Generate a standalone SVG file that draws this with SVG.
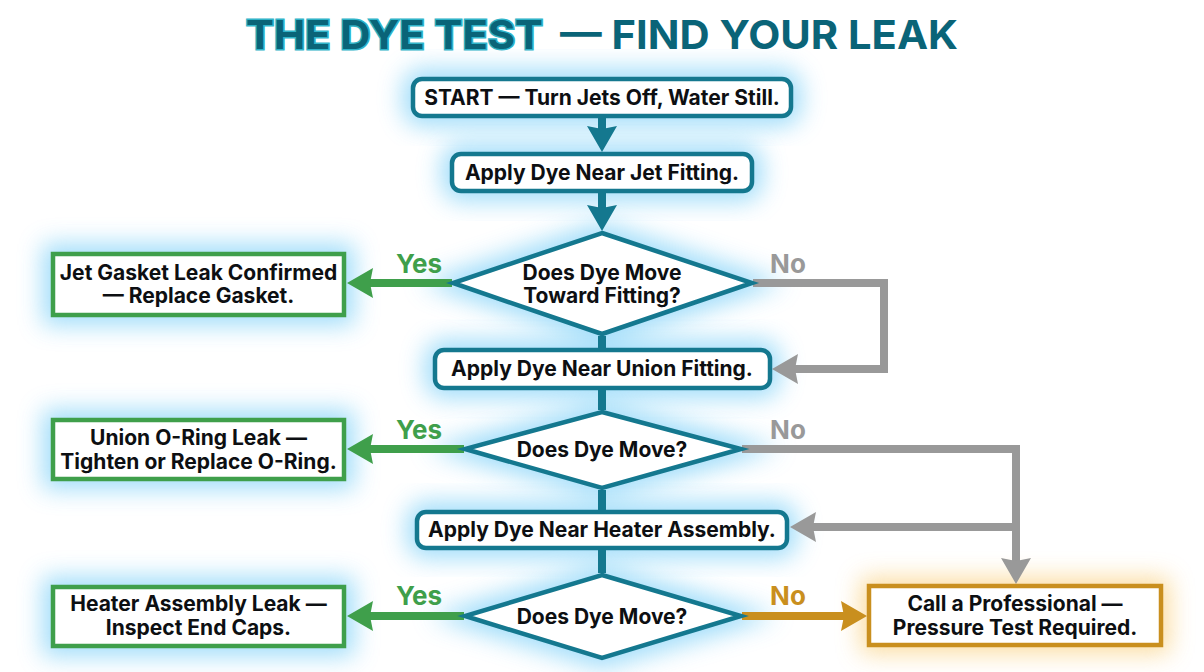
<svg xmlns="http://www.w3.org/2000/svg" width="1204" height="672" viewBox="0 0 1204 672">
<style>
text{font-family:"Inter","Liberation Sans",sans-serif;font-weight:700;text-anchor:middle}
.t{font-size:21px;fill:#0d0f12}
.lab{font-size:26px}
.teal{fill:#fff;stroke:#14788f;stroke-width:4.500;stroke-linejoin:miter}
.green{fill:#fff;stroke:#3f9f4b;stroke-width:4.500}
.gold{fill:#fff;stroke:#c98f1e;stroke-width:4.500}
.gt{fill:#8fd8fa;stroke:#7ed0f8;stroke-width:20;filter:url(#glow);opacity:.75}
.go{fill:#fbd58a;stroke:#f9cf7c;stroke-width:16;filter:url(#glow);opacity:.75}
.c{fill:none;stroke-width:8}
</style>
<defs>
<filter id="glow" x="-30%" y="-80%" width="160%" height="260%"><feGaussianBlur stdDeviation="12"/></filter>
<marker id="aT" markerUnits="userSpaceOnUse" markerWidth="30" markerHeight="32" refX="4" refY="15" orient="auto"><path d="M0 0L26 15L0 30L3 15Z" fill="#14788f"/></marker>
<marker id="aG" markerUnits="userSpaceOnUse" markerWidth="30" markerHeight="32" refX="4" refY="15" orient="auto"><path d="M0 0L26 15L0 30L3 15Z" fill="#3f9f4b"/></marker>
<marker id="aY" markerUnits="userSpaceOnUse" markerWidth="30" markerHeight="32" refX="4" refY="15" orient="auto"><path d="M0 0L26 15L0 30L3 15Z" fill="#999999"/></marker>
<marker id="aO" markerUnits="userSpaceOnUse" markerWidth="30" markerHeight="32" refX="4" refY="15" orient="auto"><path d="M0 0L26 15L0 30L3 15Z" fill="#c98f1e"/></marker>
</defs>
<rect width="1204" height="672" fill="#fff"/>
<g id="title">
<text x="394.500" y="49" font-size="40" fill="#0a6478" stroke="#2fb4c9" stroke-width="3" paint-order="stroke" textLength="297" lengthAdjust="spacingAndGlyphs">THE DYE TEST</text>
<text x="759" y="49" font-size="40" fill="#0a6478" textLength="398" lengthAdjust="spacingAndGlyphs">— FIND YOUR LEAK</text>
</g>
<g id="glows">
<rect class="gt" x="413" y="79" width="378" height="37" rx="9"/>
<rect class="gt" x="452" y="154" width="300" height="37" rx="9"/>
<path class="gt" d="M602 233L753 283L602 334L452 283Z"/>
<rect class="gt" x="435" y="350" width="335" height="38" rx="9"/>
<path class="gt" d="M602 412L742 449L602 488L464 449Z"/>
<rect class="gt" x="417" y="512" width="370" height="36" rx="9"/>
<path class="gt" d="M602 575L742 616L602 658L464 616Z"/>
<rect class="gt" x="53" y="254" width="291" height="61"/>
<rect class="gt" x="53" y="420" width="291" height="59"/>
<rect class="gt" x="53" y="587" width="291" height="59"/>
<rect class="go" x="869" y="586" width="292" height="59"/>
</g>
<g id="connectors">
<path class="c" stroke="#14788f" d="M602 118V130" marker-end="url(#aT)"/>
<path class="c" stroke="#14788f" d="M602 193V209" marker-end="url(#aT)"/>
<path class="c" stroke="#14788f" d="M602 336V348"/>
<path class="c" stroke="#14788f" d="M602 390V410"/>
<path class="c" stroke="#14788f" d="M602 490V510"/>
<path class="c" stroke="#14788f" d="M602 550V573"/>
<path class="c" stroke="#3f9f4b" d="M452 283H369" marker-end="url(#aG)"/>
<path class="c" stroke="#3f9f4b" d="M464 449H369" marker-end="url(#aG)"/>
<path class="c" stroke="#3f9f4b" d="M464 616H369" marker-end="url(#aG)"/>
<path class="c" stroke="#999999" stroke-linejoin="miter" d="M753 283H884V369H794" marker-end="url(#aY)"/>
<path class="c" stroke="#999999" stroke-linejoin="miter" d="M742 449H1016V562" marker-end="url(#aY)"/>
<path class="c" stroke="#999999" d="M1016 527H812" marker-end="url(#aY)"/>
<path class="c" stroke="#c98f1e" d="M742 616H845" marker-end="url(#aO)"/>
</g>
<g id="n-start"><rect class="teal" x="413" y="79" width="378" height="37" rx="9"/><text class="t" x="602" y="105">START — Turn Jets Off, Water Still.</text></g>
<g id="n-jet"><rect class="teal" x="452" y="154" width="300" height="37" rx="9"/><text class="t" x="602" y="180">Apply Dye Near Jet Fitting.</text></g>
<g id="n-d1"><path class="teal" d="M602 233L752 283L602 334L453 283Z"/><text class="t" x="602" y="280">Does Dye Move</text><text class="t" x="602" y="303">Toward Fitting?</text></g>
<g id="n-union"><rect class="teal" x="435" y="350" width="335" height="38" rx="9"/><text class="t" x="602" y="376">Apply Dye Near Union Fitting.</text></g>
<g id="n-d2"><path class="teal" d="M602 412L741 449L602 488L465 449Z"/><text class="t" x="602" y="457">Does Dye Move?</text></g>
<g id="n-heater"><rect class="teal" x="417" y="512" width="370" height="36" rx="9"/><text class="t" x="602" y="537">Apply Dye Near Heater Assembly.</text></g>
<g id="n-d3"><path class="teal" d="M602 575L741 616L602 658L465 616Z"/><text class="t" x="602" y="624">Does Dye Move?</text></g>
<g id="n-gasket"><rect class="green" x="53" y="254" width="291" height="61"/><text class="t" x="198.500" y="280">Jet Gasket Leak Confirmed</text><text class="t" x="198.500" y="303">— Replace Gasket.</text></g>
<g id="n-oring"><rect class="green" x="53" y="420" width="291" height="59"/><text class="t" x="198.500" y="445">Union O-Ring Leak —</text><text class="t" x="198.500" y="469">Tighten or Replace O-Ring.</text></g>
<g id="n-caps"><rect class="green" x="53" y="587" width="291" height="59"/><text class="t" x="198.500" y="611">Heater Assembly Leak —</text><text class="t" x="198.500" y="635">Inspect End Caps.</text></g>
<g id="n-pro"><rect class="gold" x="869" y="586" width="292" height="59"/><text class="t" x="1015" y="611">Call a Professional —</text><text class="t" x="1015" y="635">Pressure Test Required.</text></g>
<g id="labels">
<text class="lab" x="419" y="273" fill="#3f9f4b">Yes</text>
<text class="lab" x="419" y="439" fill="#3f9f4b">Yes</text>
<text class="lab" x="419" y="605" fill="#3f9f4b">Yes</text>
<text class="lab" x="788" y="273" fill="#999999">No</text>
<text class="lab" x="788" y="439" fill="#999999">No</text>
<text class="lab" x="788" y="605" fill="#c98f1e">No</text>
</g>
</svg>
